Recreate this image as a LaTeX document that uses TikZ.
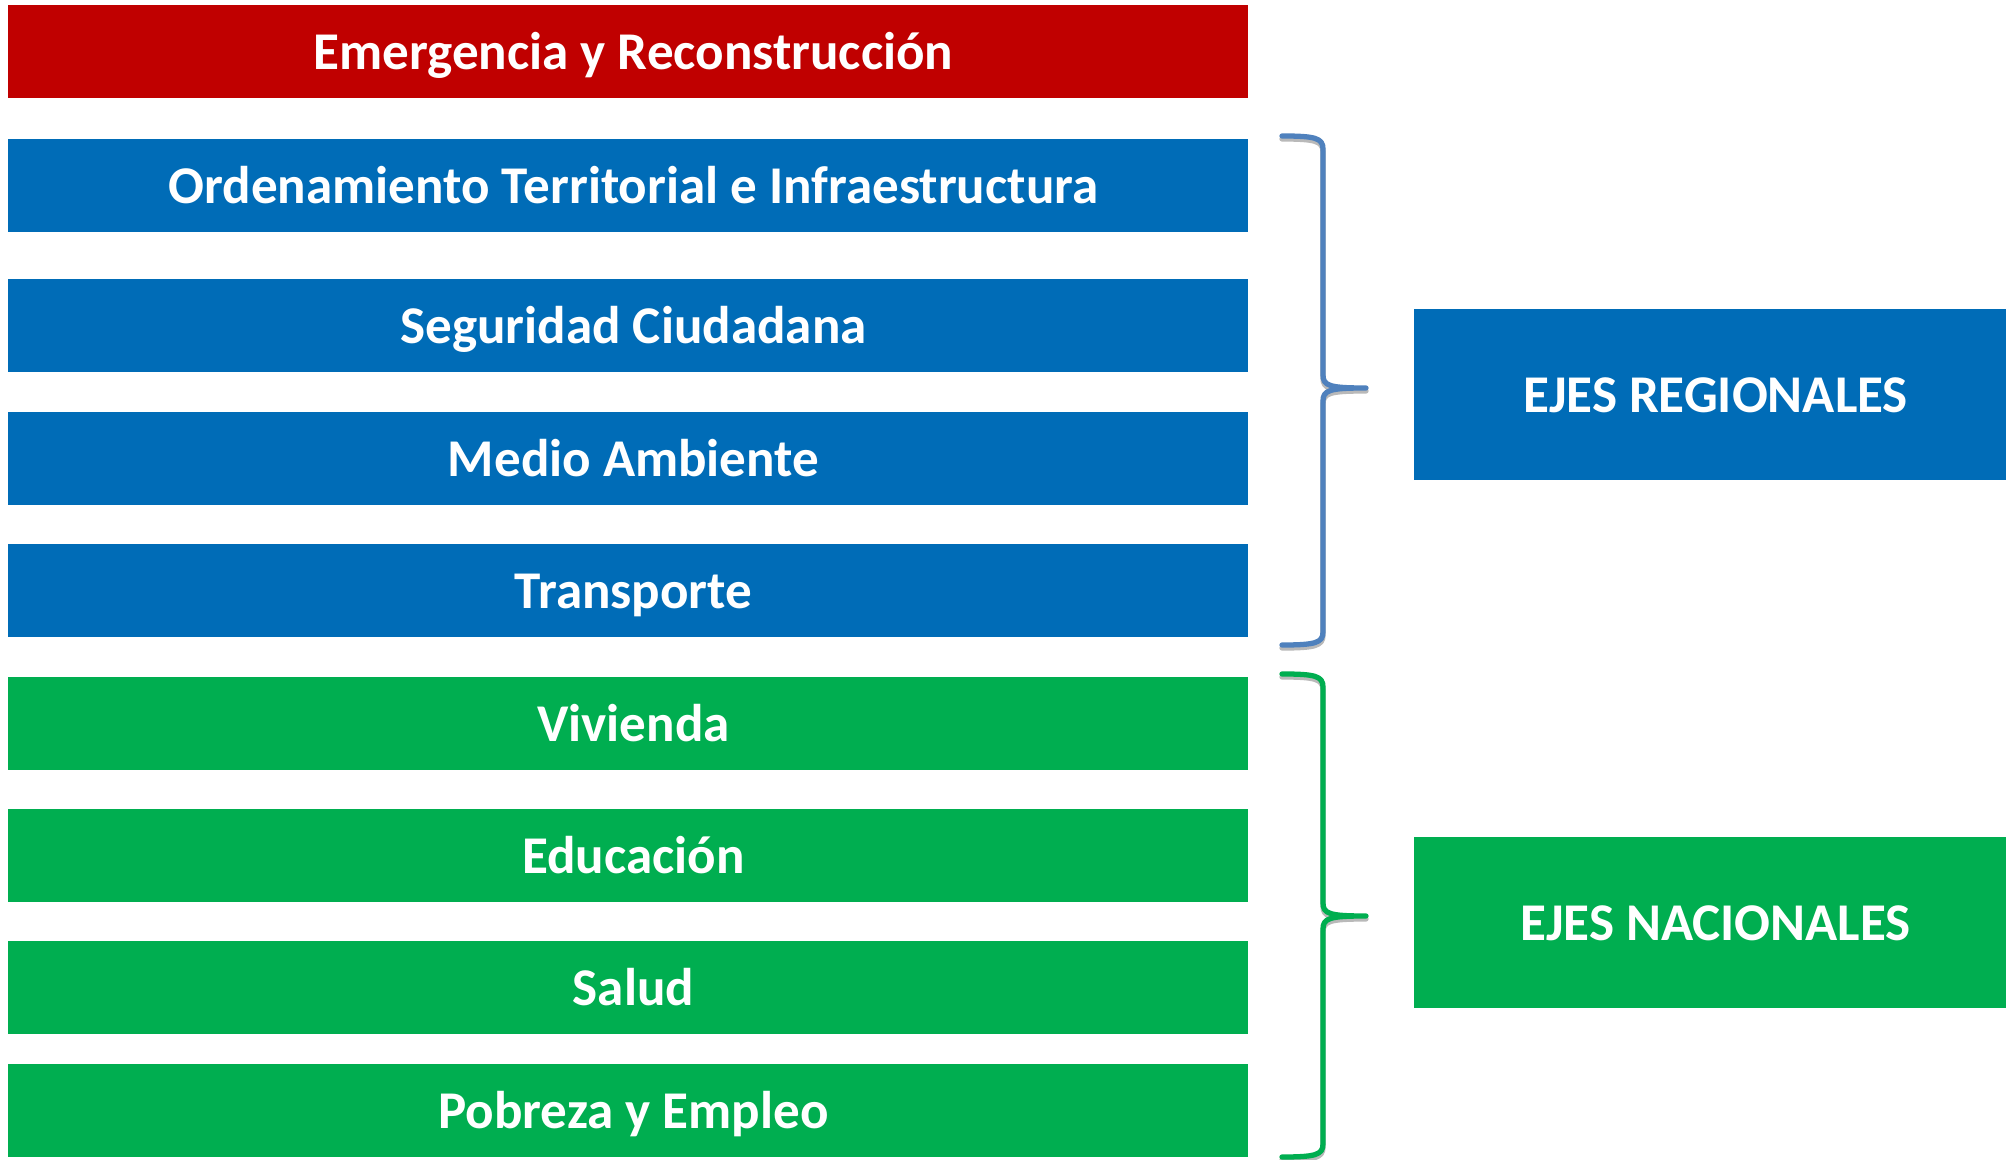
\documentclass[tikz,border=0pt]{standalone}
\usepackage{fontspec}
\setmainfont{Carlito}
\usetikzlibrary{calc}

\definecolor{rojo}{HTML}{C00000}
\definecolor{azul}{HTML}{006CB7}
\definecolor{verde}{HTML}{00AE50}
\definecolor{azulllave}{HTML}{4F81BD}

\begin{document}
\begin{tikzpicture}[
  texto/.style={inner sep=0, text=white, text height=0.36cm, text depth=0cm,
    font=\fontsize{15.1}{18}\selectfont\bfseries, execute at begin node={\hspace*{0.11cm}}},
  eje/.style={texto, minimum width=12.40cm, minimum height=0.93cm},
  grupo/.style={texto, minimum width=5.92cm, minimum height=1.71cm},
  llave/.style={line width=1.5pt, line cap=round, line join=round},
]
\useasboundingbox (0,0) rectangle (20.11,11.60);

% ejes
\node[eje, fill=rojo]  (emer)     at (6.28,11.085) {Emergencia y Reconstrucción};
\node[eje, fill=azul]  (ordena)   at (6.28,9.745)  {Ordenamiento Territorial e Infraestructura};
\node[eje, fill=azul]  (segur)    at (6.28,8.345)  {Seguridad Ciudadana};
\node[eje, fill=azul]  (medio)    at (6.28,7.015)  {Medio Ambiente};
\node[eje, fill=azul]  (transp)   at (6.28,5.695)  {Transporte};
\node[eje, fill=verde] (vivienda) at (6.28,4.365)  {Vivienda};
\node[eje, fill=verde] (educa)    at (6.28,3.045)  {Educación};
\node[eje, fill=verde] (salud)    at (6.28,1.725)  {Salud};
\node[eje, fill=verde] (pobreza)  at (6.28,0.495)  {Pobreza y Empleo};

% grupos
\node[grupo, fill=azul]  (regional) at (17.10,7.655) {EJES REGIONALES};
\node[grupo, fill=verde] (nacional) at (17.10,2.375) {EJES NACIONALES};

% llaves
\foreach \col/\t/\m/\b in {azulllave/10.24/7.72/5.15, verde/4.86/2.44/0.03} {
 \foreach \sombra/\dy in {gray!55/-0.03, \col/0} {
  \draw[llave, \sombra, yshift=\dy cm] (12.82,\t) .. controls (13.15,\t) and (13.23,\t-0.02) .. (13.23,\t-0.13)
    -- (13.23,\m+0.13) .. controls (13.23,\m+0.02) and (13.30,\m) .. (13.66,\m)
    .. controls (13.30,\m) and (13.23,\m-0.02) .. (13.23,\m-0.13)
    -- (13.23,\b+0.13) .. controls (13.23,\b+0.02) and (13.15,\b) .. (12.82,\b);
 }
}
\end{tikzpicture}
\end{document}
